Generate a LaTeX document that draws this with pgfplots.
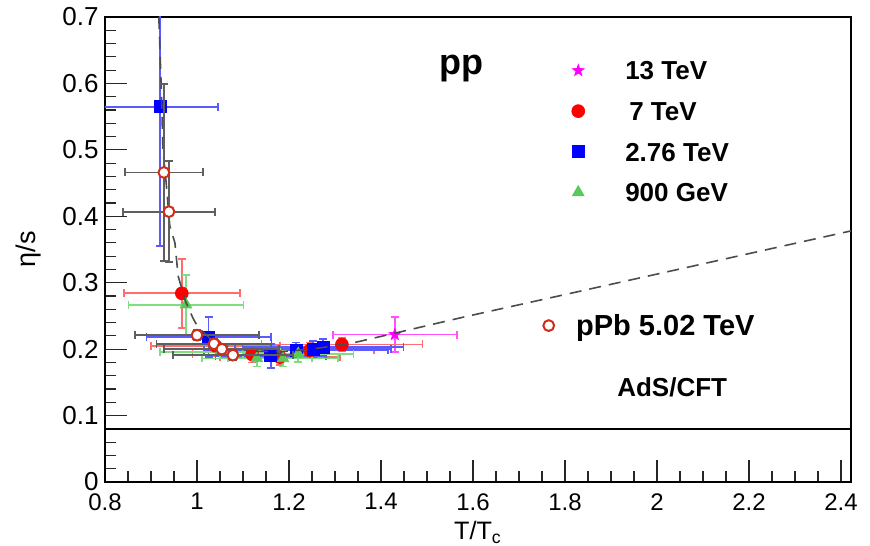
\documentclass[border=0pt]{standalone}
\usepackage{fontspec}
\setmainfont{Liberation Sans}
\usepackage{pgfplots}
\usepackage{pgfplotstable}
\pgfplotsset{compat=1.18}
\usetikzlibrary{plotmarks}

\definecolor{cmag}{RGB}{255,0,255}
\definecolor{cred}{RGB}{255,0,0}
\definecolor{cblue}{RGB}{0,0,255}
\definecolor{cgreen}{RGB}{90,200,90}
\definecolor{cppb}{RGB}{205,45,25}
\definecolor{ebred}{RGB}{255,110,110}
\definecolor{ebblue}{RGB}{90,90,255}
\definecolor{ebgreen}{RGB}{130,220,130}
\definecolor{ebmag}{RGB}{255,80,255}
\definecolor{ebgray}{RGB}{95,95,95}

% filled five-point star
\pgfdeclareplotmark{fstar}{%
  \pgfpathmoveto{\pgfpointpolar{90}{\pgfplotmarksize}}%
  \pgfpathlineto{\pgfpointpolar{126}{0.4\pgfplotmarksize}}%
  \pgfpathlineto{\pgfpointpolar{162}{\pgfplotmarksize}}%
  \pgfpathlineto{\pgfpointpolar{198}{0.4\pgfplotmarksize}}%
  \pgfpathlineto{\pgfpointpolar{234}{\pgfplotmarksize}}%
  \pgfpathlineto{\pgfpointpolar{270}{0.4\pgfplotmarksize}}%
  \pgfpathlineto{\pgfpointpolar{306}{\pgfplotmarksize}}%
  \pgfpathlineto{\pgfpointpolar{342}{0.4\pgfplotmarksize}}%
  \pgfpathlineto{\pgfpointpolar{18}{\pgfplotmarksize}}%
  \pgfpathlineto{\pgfpointpolar{54}{0.4\pgfplotmarksize}}%
  \pgfpathclose\pgfusepathqfillstroke}

% x y ex ey
\pgfplotstableread{
x     y     ex    ey
1.43  0.222 0.135 0.026
}\tevthirteen
\pgfplotstableread{
x     y     ex    ey
0.967 0.284 0.126 0.052
1.04  0.205 0.14  0.016
1.12  0.192 0.13  0.012
1.18  0.188 0.13  0.012
1.245 0.198 0.14  0.012
1.315 0.207 0.175 0.010
}\tevseven
\pgfplotstableread{
x     y     ex    ey
0.92  0.565 0.125 0.21
1.025 0.218 0.135 0.03
1.16  0.190 0.12  0.018
1.215 0.198 0.20  0.012
1.252 0.200 0.17  0.012
1.274 0.203 0.175 0.012
}\tevtwo
\pgfplotstableread{
x     y     ex    ey
0.976 0.267 0.125 0.045
1.05  0.196 0.13  0.010
1.13  0.186 0.12  0.012
1.187 0.186 0.12  0.012
1.22  0.193 0.12  0.012
}\gevnine
\pgfplotstableread{
x     y     ex    ey
0.928 0.466 0.085 0.133
0.939 0.407 0.10  0.076
1.0   0.221 0.135 0.008
1.037 0.208 0.125 0.008
1.054 0.200 0.125 0.008
1.078 0.191 0.13  0.008
}\ppb
\pgfplotstableread{
x     y
0.917 0.700
0.922 0.600
0.926 0.500
0.933 0.450
0.941 0.385
0.952 0.360
0.959 0.310
0.975 0.272
0.991 0.247
1.002 0.233
1.03  0.215
1.07  0.203
1.12  0.197
1.18  0.196
1.25  0.200
1.343 0.210
1.578 0.248
2.0   0.313
2.4217 0.378
}\fit

\pgfplotsset{
  common/.style={
    scale only axis, width=373pt, height=232.5pt,
    xmin=0.8, xmax=2.4217, ymin=0, ymax=0.7,
  },
  onemark/.style={legend image code/.code={\draw[##1] plot coordinates {(0pt,0pt)};}},
  ebars/.style={
    /pgfplots/error bars/x dir=both, /pgfplots/error bars/x explicit,
    /pgfplots/error bars/y dir=both, /pgfplots/error bars/y explicit,
    /pgfplots/error bars/error bar style={line width=0.9pt, color=#1},
    /pgfplots/error bars/error mark options={rotate=90, mark size=2pt, line width=0.9pt, color=#1}},
}

\begin{document}
\begin{tikzpicture}
\begin{axis}[
  common, name=main,
  xtick={0.8,1,1.2,1.4,1.6,1.8,2,2.2,2.4},
  ytick={0,0.1,0.2,0.3,0.4,0.5,0.6,0.7},
  minor x tick num=3, minor y tick num=4,
  tick pos=left, tick align=inside,
  major tick length=11pt, minor tick length=5.5pt,
  axis line style={line width=1pt},
  every tick/.style={line width=0.6pt, black!85},
  /pgf/number format/assume math mode=true,
  xticklabel style={font=\fontsize{12}{12}\selectfont, inner sep=0pt, yshift=-5.5pt},
  yticklabel style={font=\fontsize{13}{13}\selectfont, inner sep=0pt, xshift=-3pt},
  xlabel={T/T\textsubscript{c}},
  xlabel style={font=\fontsize{12.6}{13}\selectfont, at={(axis description cs:0.5,0)}, anchor=north, inner sep=0pt, yshift=-19.5pt},
  ylabel={η/s},
  ylabel style={font=\fontsize{13.5}{14}\selectfont, at={(axis description cs:-0.103,0.5)}, anchor=center, inner sep=0pt},
  onemark,
  legend cell align=left,
  legend style={at={(axis cs:1.814,0.634)}, anchor=north west, draw=none, fill=none,
    inner sep=0pt, row sep=11pt, column sep=20.3pt,
    font=\fontsize{13}{13}\selectfont\bfseries,
    nodes={inner sep=0pt, text height=9.3pt, text depth=0pt}},
]
\addplot[black, line width=1pt, forget plot] coordinates {(0.8,0.0796) (2.4217,0.0796)};

\addplot[only marks, mark=fstar, mark size=3pt, draw=cmag, fill=cmag, ebars=ebmag]
  table[x=x, y=y, x error=ex, y error=ey] {\tevthirteen};
\addlegendentry{13 TeV}
\addplot[only marks, mark=*, mark size=3.2pt, draw=cred, fill=cred, ebars=ebred]
  table[x=x, y=y, x error=ex, y error=ey] {\tevseven};
\addlegendentry{\hspace*{2pt}7 TeV}
\addplot[only marks, mark=square*, mark size=3pt, draw=cblue, fill=cblue, ebars=ebblue]
  table[x=x, y=y, x error=ex, y error=ey] {\tevtwo};
\addlegendentry{2.76 TeV}
\addplot[only marks, mark=triangle*, mark size=3.3pt, draw=cgreen, fill=cgreen, ebars=ebgreen]
  table[x=x, y=y, x error=ex, y error=ey] {\gevnine};
\addlegendentry{900 GeV}

\node[font=\fontsize{18}{18}\selectfont\bfseries, inner sep=0pt] at (axis cs:1.574,0.623) {pp};
\node[font=\fontsize{13}{13}\selectfont\bfseries, inner sep=0pt] at (axis cs:2.033,0.143) {AdS/CFT};
\end{axis}

\begin{axis}[
  common, hide axis,
  onemark,
  legend cell align=left,
  legend style={at={(axis cs:1.752,0.2517)}, anchor=north west, draw=none, fill=none,
    inner sep=0pt, column sep=11pt,
    font=\fontsize{14.5}{14.5}\selectfont\bfseries,
    nodes={inner sep=0pt, text height=10.4pt, text depth=0pt}},
]
\addplot[dashed, dash pattern=on 6pt off 4pt, color=black!70, line width=0.8pt, forget plot]
  table[x=x, y=y] {\fit};
\addplot[only marks, mark=*, mark size=2.7pt, draw=cppb, fill=white, line width=1pt, ebars=ebgray]
  table[x=x, y=y, x error=ex, y error=ey] {\ppb};
\addlegendentry{pPb 5.02 TeV}
\end{axis}

\pgfresetboundingbox
\path[use as bounding box] ([shift={(-52.5pt,-31.5pt)}]main.south west) rectangle ([shift={(9.5pt,8.5pt)}]main.north east);
\end{tikzpicture}
\end{document}
